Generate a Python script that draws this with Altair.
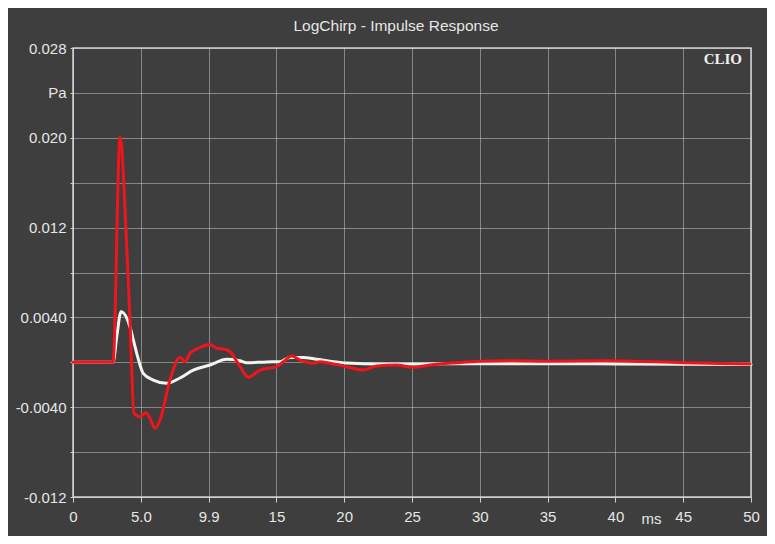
import altair as alt
import pandas as pd

# ---- data ----
white_t = [0.0, 2.95, 3.25, 3.54, 4.20, 4.45, 4.70, 5.18, 5.92, 6.91, 7.89, 8.87, 10.1, 11.33,
           12.3, 12.81, 14.28, 15.27, 16.0, 16.96, 17.97, 18.95, 20.18, 22.64, 25.6, 30.0,
           35.2, 40.3, 50.0]
white_v = [0.0, 0.0, 0.0025, 0.00451, 0.00317, 0.00199, 0.0008, -0.00098, -0.00158, -0.00187,
           -0.0014, -0.00069, -0.00024, 0.00027, 0.00014, -0.00004, 0.00003, 0.00005, 0.00043,
           0.00043, 0.00027, 0.0001, -0.00006, -0.00015, -0.00015, -0.00012, -0.00012,
           -0.00015, -0.0002]

red_t = [0.0, 2.95, 3.47, 3.96, 4.20, 4.50, 4.94, 5.38, 5.68, 6.05, 6.42, 7.15, 7.89, 8.26,
         8.63, 9.24, 10.1, 10.6, 11.2, 11.58, 12.32, 12.93, 13.79, 15.02, 15.51, 16.13, 16.74,
         17.18, 17.72, 18.22, 18.95, 20.18, 21.39, 22.4, 23.87, 25.1, 26.33, 28.3, 30.0,
         32.47, 34.93, 39.36, 45.0, 49.93]
red_v = [0.0, 0.0, 0.02004, 0.0103, 0.00377, -0.00454, -0.00485, -0.00449, -0.00499, -0.00588,
         -0.00514, -0.00158, 0.00045, 0.00005, 0.0008, 0.00125, 0.00159, 0.00125, 0.00116,
         0.00094, -0.00039, -0.00134, -0.00069, -0.00039, 0.00005, 0.00056, 0.0002, 0.00003,
         -0.00009, 0.00005, -0.00009, -0.00039, -0.00069, -0.00033, -0.00024, -0.00045,
         -0.00024, -0.00004, 0.00009, 0.00014, 0.00009, 0.00014, -0.00004, -0.00015]

x_ticks = [0, 5, 10, 15, 20, 25, 30, 35, 40, 45, 50]
x_labels = ["0", "5.0", "9.9", "15", "20", "25", "30", "35", "40", "45", "50"]
y_ticks = [-0.012, -0.008, -0.004, 0.0, 0.004, 0.008, 0.012, 0.016, 0.020, 0.024, 0.028]
y_labels = ["-0.012", "", "-0.0040", "", "0.0040", "", "0.012", "", "0.020", "Pa", "0.028"]

df = pd.concat([
    pd.DataFrame({"t": white_t, "p": white_v, "s": "white", "o": 0}),
    pd.DataFrame({"t": red_t, "p": red_v, "s": "red", "o": 1}),
])

BG = "#3d3e3d"
TXT = "#e6e6e6"
GRID = "#dcdcdc"

x_expr = "[" + ",".join(f"'{l}'" for l in x_labels) + "][round(datum.value/5)]"
y_expr = "[" + ",".join(f"'{l}'" for l in y_labels) + "][round((datum.value+0.012)/0.004)]"

x_enc = alt.X("t:Q", scale=alt.Scale(domain=[0, 50], nice=False, zero=False),
              axis=alt.Axis(values=x_ticks, labelExpr=x_expr, title="ms",
                            titleX=578, titleY=26, titleBaseline="alphabetic",
                            titleAnchor="start", titleAlign="center",
                            titleFontWeight="normal", titleFontSize=15, titleColor=TXT,
                            labelFontSize=15, labelColor=TXT, labelPadding=7,
                            labelBaseline="top", tickSize=5, tickColor="#d0d0d0",
                            domainColor="#d0d0d0", gridColor=GRID, gridDash=[1, 1],
                            gridOpacity=0.9,
                            labelFont="Liberation Sans", titleFont="Liberation Sans",
                            labelFlush=False, labelOverlap=False))
y_enc = alt.Y("p:Q", scale=alt.Scale(domain=[-0.012, 0.028], nice=False, zero=False),
              axis=alt.Axis(values=y_ticks, labelExpr=y_expr, title=None,
                            labelFontSize=15, labelColor=TXT, labelPadding=4,
                            tickSize=3, tickColor="#d0d0d0", domainColor="#d0d0d0",
                            gridColor=GRID, gridDash=[1, 1], gridOpacity=0.9,
                            labelFont="Liberation Sans",
                            labelFlush=False, labelOverlap=False))

lines = alt.Chart(df).mark_line(strokeWidth=3, strokeJoin="round", strokeCap="round",
                                interpolate="monotone").encode(
    x=x_enc,
    y=y_enc,
    color=alt.Color("s:N", scale=alt.Scale(domain=["white", "red"],
                                           range=["#f4f4ee", "#f0141c"]), legend=None),
    order=alt.Order("o:Q"),
    detail="s:N",
)

clio = alt.Chart(pd.DataFrame({"label": ["CLIO"]})).mark_text(
    align="right", baseline="top", font="Liberation Serif", fontWeight="bold",
    fontSize=15, color="#f0f0f0").encode(
    text="label:N", x=alt.value(669), y=alt.value(4))

chart = alt.layer(lines, clio).properties(
    width=678, height=449,
    background=BG,
    padding={"left": 65, "top": 40, "right": 16, "bottom": 39},
    autosize=alt.AutoSizeParams(type="none"),
    title=alt.TitleParams("LogChirp - Impulse Response", anchor="middle", frame="group",
                          dx=-16, offset=7, fontSize=15.5, fontWeight="normal",
                          color=TXT, font="Liberation Sans"),
).configure_view(stroke="#d0d0d0", strokeWidth=1.5)

chart.save("out.html", embed_options={"renderer": "svg", "actions": False})
